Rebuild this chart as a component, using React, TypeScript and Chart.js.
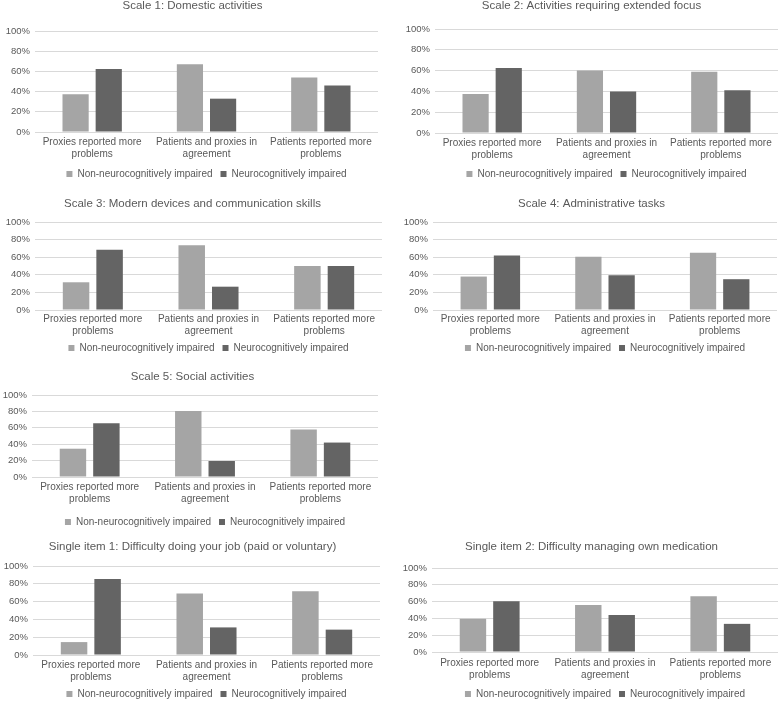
import React, { useEffect, useRef } from "react";
import { Chart, registerables } from "chart.js";

Chart.register(...registerables);

// ---------- data ----------
const categories: string[][] = [
  ["Proxies reported more", "problems"],
  ["Patients and proxies in", "agreement"],
  ["Patients reported more", "problems"],
];
const seriesNames = ["Non-neurocognitively impaired", "Neurocognitively impaired"];
const yTicks = [0, 20, 40, 60, 80, 100];

const scale1Non = [37.5, 67, 54];
const scale1Neuro = [62.5, 33, 46];
const scale2Non = [37.5, 60, 59];
const scale2Neuro = [62.5, 40, 41];
const scale3Non = [31.5, 73.5, 50];
const scale3Neuro = [68.5, 26.5, 50];
const scale4Non = [38, 60.5, 65];
const scale4Neuro = [62, 39.5, 35];
const scale5Non = [34.5, 80.5, 58];
const scale5Neuro = [65.5, 19.5, 42];
const item1Non = [14.5, 69, 71.5];
const item1Neuro = [85.5, 31, 28.5];
const item2Non = [39.5, 56, 66.5];
const item2Neuro = [60.5, 44, 33.5];

const titles = [
  "Scale 1: Domestic activities",
  "Scale 2: Activities requiring extended focus",
  "Scale 3: Modern devices and communication skills",
  "Scale 4: Administrative tasks",
  "Scale 5: Social activities",
  "Single item 1: Difficulty doing your job (paid or voluntary)",
  "Single item 2: Difficulty managing own medication",
];

// ---------- style ----------
const COLOR_NON = "#a5a5a5";
const COLOR_NEURO = "#646464";
const TEXT = "#595959";
const GRID = "#d9d9d9";
const FONT = "'Liberation Sans', Arial, Helvetica, sans-serif";
const LEGEND_PAD = 8;

type Layout = {
  left: number; top: number; width: number; height: number;
  padL: number; padR: number; yW: number; titleGap: number; xH: number; xPad: number;
};

// xH is the axis height assuming a 30px legend block; adjusted below for LEGEND_PAD
const layouts: Layout[] = [
  { left: 0, top: 0, width: 385, height: 189, padL: 7, padR: 7, yW: 28, titleGap: 19.5, xH: 27, xPad: 4 },
  { left: 400, top: 0, width: 381, height: 189, padL: 5, padR: 3, yW: 30, titleGap: 17.5, xH: 26, xPad: 4 },
  { left: 0, top: 198, width: 385, height: 165, padL: 3, padR: 3, yW: 32, titleGap: 12.5, xH: 23, xPad: 3.5 },
  { left: 400, top: 198, width: 381, height: 165, padL: 6, padR: 4, yW: 27, titleGap: 12.5, xH: 23, xPad: 3.5 },
  { left: 0, top: 371, width: 385, height: 166, padL: 7, padR: 7, yW: 25, titleGap: 12.5, xH: 30, xPad: 4.5 },
  { left: 0, top: 541, width: 385, height: 168, padL: 5, padR: 5, yW: 28, titleGap: 13.5, xH: 24, xPad: 4.5 },
  { left: 400, top: 541, width: 381, height: 168, padL: 5, padR: 3, yW: 27, titleGap: 15.5, xH: 27, xPad: 5.5 },
];

const panelData: number[][][] = [
  [scale1Non, scale1Neuro],
  [scale2Non, scale2Neuro],
  [scale3Non, scale3Neuro],
  [scale4Non, scale4Neuro],
  [scale5Non, scale5Neuro],
  [item1Non, item1Neuro],
  [item2Non, item2Neuro],
];

// let tick labels draw past the (pinned) scale box instead of being clipped
const noLabelClip = (s: any) => {
  s._computeLabelArea = () => undefined;
};

function Panel({ index }: { index: number }) {
  const ref = useRef<HTMLCanvasElement>(null);
  const L = layouts[index];
  useEffect(() => {
    if (!ref.current) return;
    const [non, neuro] = panelData[index];
    const chart = new Chart(ref.current, {
      type: "bar",
      data: {
        labels: categories,
        datasets: [
          { label: seriesNames[0], data: non, backgroundColor: COLOR_NON, borderWidth: 0 },
          { label: seriesNames[1], data: neuro, backgroundColor: COLOR_NEURO, borderWidth: 0 },
        ],
      },
      options: {
        responsive: false,
        animation: false,
        events: [],
        datasets: { bar: { categoryPercentage: 0.58, barPercentage: 0.79 } },
        layout: { padding: { left: L.padL, right: L.padR, top: 0, bottom: 0 } },
        plugins: {
          tooltip: { enabled: false },
          title: {
            display: true,
            text: titles[index],
            color: TEXT,
            font: { family: FONT, size: 11.5, weight: "normal", lineHeight: 1 },
            padding: { top: 0, bottom: L.titleGap },
          },
          legend: {
            display: true,
            position: "bottom",
            fullSize: false,
            labels: {
              color: TEXT,
              font: { family: FONT, size: 10 },
              boxWidth: 6,
              boxHeight: 6,
              padding: LEGEND_PAD,
            },
          },
        },
        scales: {
          x: {
            grid: { display: false, drawTicks: false },
            border: { display: false },
            ticks: {
              color: TEXT,
              font: { family: FONT, size: 10 },
              padding: L.xPad,
              maxRotation: 0,
              autoSkip: false,
            },
            afterFit: (s: any) => { s.height = L.xH + (10 - LEGEND_PAD); noLabelClip(s); },
          },
          y: {
            min: 0,
            max: 100,
            afterBuildTicks: (s: any) => { s.ticks = yTicks.map((v) => ({ value: v })); },
            grid: { color: GRID, lineWidth: 1, drawTicks: false },
            border: { display: false },
            ticks: {
              color: TEXT,
              font: { family: FONT, size: 9.5 },
              padding: 5,
              callback: (v: any) => v + "%",
            },
            afterFit: (s: any) => { s.width = L.yW; noLabelClip(s); },
          },
        },
      },
    });
    return () => chart.destroy();
  }, [index]);
  return (
    <canvas
      ref={ref}
      width={L.width}
      height={L.height}
      style={{ position: "absolute", left: L.left, top: L.top, width: L.width, height: L.height }}
    />
  );
}

export default function App() {
  return (
    <div
      style={{
        position: "absolute",
        left: 0,
        top: 0,
        width: 781,
        height: 702,
        overflow: "hidden",
        background: "#ffffff",
      }}
    >
      {titles.map((_, i) => (
        <Panel key={i} index={i} />
      ))}
    </div>
  );
}
